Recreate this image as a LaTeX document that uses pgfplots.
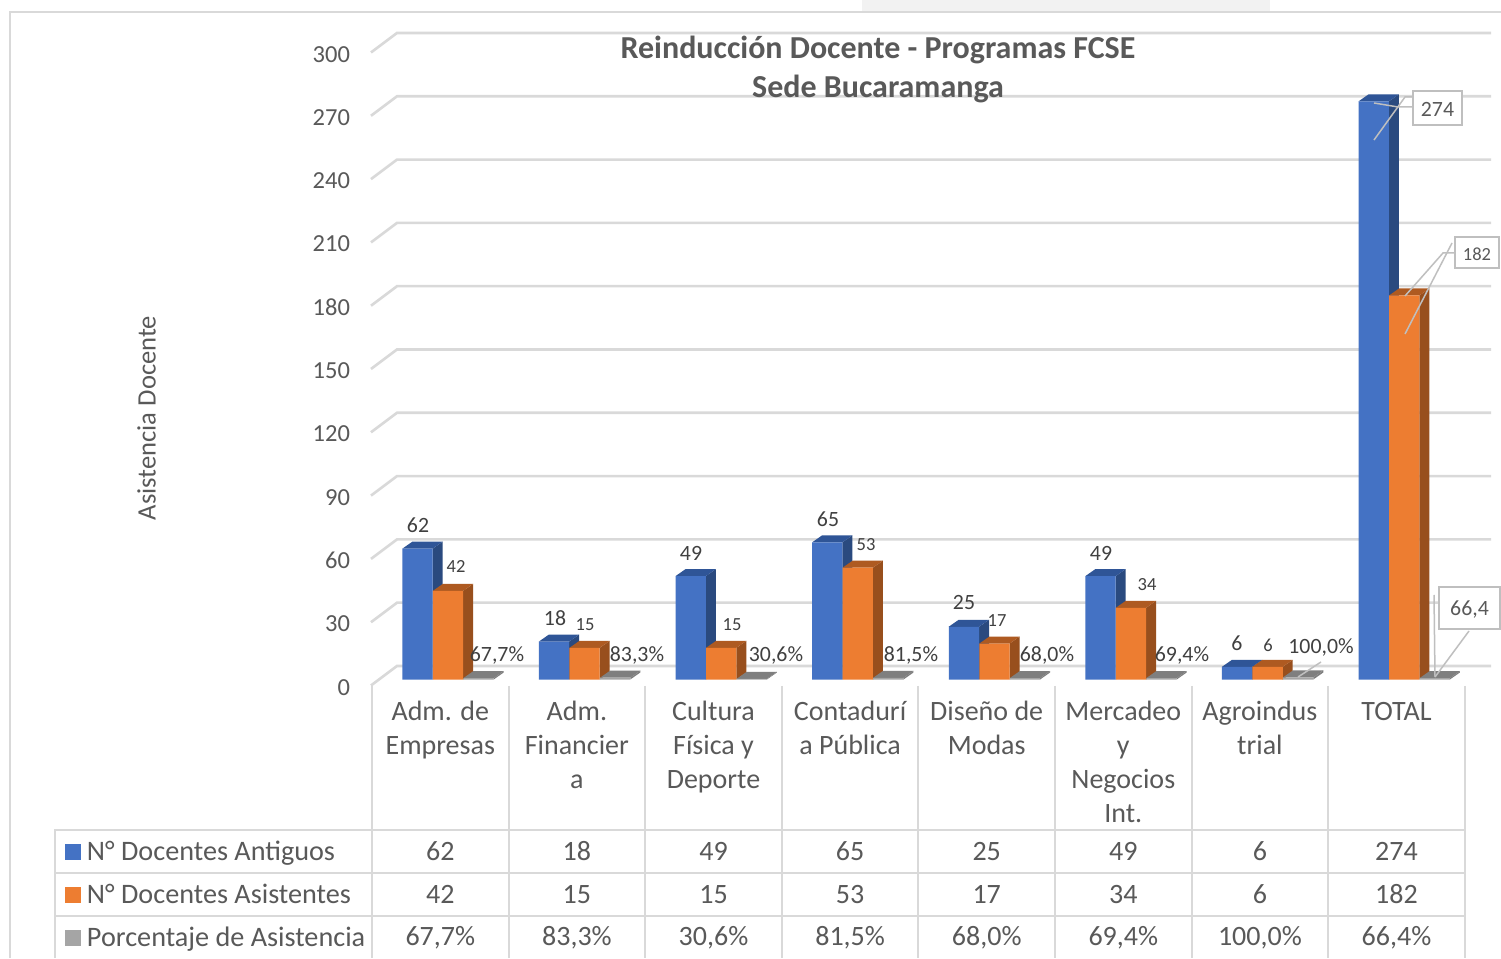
\documentclass[border=0pt]{standalone}
\usepackage{pgfplots}
\usepackage{pgfplotstable}
\usepackage{fontspec}
\setmainfont{Carlito}
\pgfplotsset{compat=1.18}
\definecolor{gridc}{HTML}{D9D9D9}
\definecolor{txt}{HTML}{595959}
\definecolor{lab}{HTML}{404040}
\definecolor{boxc}{HTML}{BFBFBF}
\definecolor{blueF}{HTML}{4472C4}
\definecolor{blueS}{HTML}{2A4A7F}
\definecolor{blueT}{HTML}{2F5597}
\definecolor{orF}{HTML}{ED7D31}
\definecolor{orS}{HTML}{984F1D}
\definecolor{orT}{HTML}{AE5A21}
\definecolor{grF}{HTML}{A5A5A5}
\definecolor{grT}{HTML}{7F7F7F}
\pgfplotstableread{
x antiguos asistentes porcentaje
0.5 62 42 0.677
1.5 18 15 0.833
2.5 49 15 0.306
3.5 65 53 0.815
4.5 25 17 0.680
5.5 49 34 0.694
6.5 6 6 1.000
7.5 274 182 0.664
}\datatable
\newcommand\sidetop[5]{%
  \pgfmathsetmacro\xl{#1+#2-0.1109}%
  \pgfmathsetmacro\xr{#1+#2+0.1109}%
  \pgfmathsetmacro\xla{\xl+0.0732}%
  \pgfmathsetmacro\xra{\xr+0.0732}%
  \pgfmathsetmacro\vt{#3+3.318}%
  \addplot[fill=#4,draw=none,forget plot] coordinates {(\xr,0) (\xra,3.318) (\xra,\vt) (\xr,#3)} -- cycle;
  \addplot[fill=#5,draw=none,forget plot] coordinates {(\xl,#3) (\xla,\vt) (\xra,\vt) (\xr,#3)} -- cycle;
}
\newcommand\bl[3]{\node[font=\fontsize{21.8}{24}\selectfont,text=lab] at (#1,#2) {#3};}
\newcommand\ol[3]{\node[font=\fontsize{18.5}{21}\selectfont,text=lab] at (#1,#2) {#3};}
\begin{document}
\begin{tikzpicture}
\useasboundingbox (-372pt,-278.5pt) rectangle (1129pt,679.5pt);
\begin{scope}[x=1pt,y=-1pt,shift={(-372pt,679.5pt)}]
  \fill[white] (0,0) rectangle (1501,958);
  \fill[black!5] (862,0) rectangle (1270,11);
  \draw[gridc,line width=1.5pt] (10,958) -- (10,12) -- (1501,12);
  \foreach \v in {0,1,...,10} {
    \pgfmathsetmacro\yf{685.5-63.3*\v}
    \pgfmathsetmacro\yb{666-63.3*\v}
    \draw[gridc,line width=2.6pt] (371,\yf) -- (397,\yb) -- (1491,\yb);
  }
\end{scope}
\begin{axis}[
  x=136.6pt,y=2.11pt,
  xmin=0,xmax=8,ymin=0,ymax=300,
  clip=false,
  axis line style={draw=none},
  tick style={draw=none},
  ytick={0,30,...,300},
  xtick={0.5,1.5,...,7.5},
  xticklabels={{\strut Adm. de\\Empresas},{\strut Adm.\\Financier\\a},{\strut Cultura\\Física y\\Deporte},{\strut Contadurí\\a Pública},{\strut Diseño de\\Modas},{\strut Mercadeo\\y\\Negocios\\Int.},{\strut Agroindus\\trial},{\strut TOTAL}},
  xticklabel style={align=center,anchor=north,yshift=-14pt,text=txt,font=\fontsize{28}{34}\selectfont},
  yticklabel style={anchor=east,xshift=-18.5pt,yshift=-7.7pt,text=txt,font=\fontsize{24.5}{26}\selectfont,/pgf/number format/assume math mode=true},
  legend image code/.code={\fill[#1] (0pt,-8pt) rectangle (16pt,8pt);},
  legend cell align=left,
  legend style={at={(-307pt,-150.5pt)},anchor=north west,draw=none,fill=none,inner sep=0pt,outer sep=0pt,row sep=0pt,
    font=\fontsize{28.2}{34}\selectfont,text=txt,
    nodes={inner sep=0pt,minimum height=43pt,anchor=west},
    /tikz/every even column/.style={column sep=0pt},
    /tikz/every odd column/.style={column sep=6pt}},
]
\sidetop{0.5}{-0.167}{62}{blueS}{blueT}
\sidetop{1.5}{-0.167}{18}{blueS}{blueT}
\sidetop{2.5}{-0.167}{49}{blueS}{blueT}
\sidetop{3.5}{-0.167}{65}{blueS}{blueT}
\sidetop{4.5}{-0.167}{25}{blueS}{blueT}
\sidetop{5.5}{-0.167}{49}{blueS}{blueT}
\sidetop{6.5}{-0.167}{6}{blueS}{blueT}
\sidetop{7.5}{-0.167}{274}{blueS}{blueT}
\addplot[ybar,bar width=30.3pt,bar shift=-22.8pt,fill=blueF,draw=none] table[x=x,y=antiguos] {\datatable};
\addlegendentry{N° Docentes Antiguos}
\sidetop{0.5}{0.0563}{42}{orS}{orT}
\sidetop{1.5}{0.0563}{15}{orS}{orT}
\sidetop{2.5}{0.0563}{15}{orS}{orT}
\sidetop{3.5}{0.0563}{53}{orS}{orT}
\sidetop{4.5}{0.0563}{17}{orS}{orT}
\sidetop{5.5}{0.0563}{34}{orS}{orT}
\sidetop{6.5}{0.0563}{6}{orS}{orT}
\sidetop{7.5}{0.0563}{182}{orS}{orT}
\addplot[ybar,bar width=30.3pt,bar shift=7.7pt,fill=orF,draw=none] table[x=x,y=asistentes] {\datatable};
\addlegendentry{N° Docentes Asistentes}
\sidetop{0.5}{0.28}{0.677}{grT}{grT}
\sidetop{1.5}{0.28}{0.833}{grT}{grT}
\sidetop{2.5}{0.28}{0.306}{grT}{grT}
\sidetop{3.5}{0.28}{0.815}{grT}{grT}
\sidetop{4.5}{0.28}{0.680}{grT}{grT}
\sidetop{5.5}{0.28}{0.694}{grT}{grT}
\sidetop{6.5}{0.28}{1.000}{grT}{grT}
\sidetop{7.5}{0.28}{0.664}{grT}{grT}
\addplot[ybar,bar width=30.3pt,bar shift=38.2pt,fill=grF,draw=none] table[x=x,y=porcentaje] {\datatable};
\addlegendentry{Porcentaje de Asistencia}
\end{axis}
\begin{scope}[x=1pt,y=-1pt,shift={(-372pt,679.5pt)}]
  % table
  \draw[gridc,line width=2pt] (55,958) -- (55,830) -- (1465,830);
  \draw[gridc,line width=2pt] (55,873) -- (1465,873);
  \draw[gridc,line width=2pt] (55,916) -- (1465,916);
  \foreach \i in {0,...,8} {
    \pgfmathsetmacro\xx{372+136.6*\i}
    \draw[gridc,line width=2pt] (\xx,686) -- (\xx,958);
  }
  \foreach \i/\a/\b/\c in {0/62/42/{67,7\%},1/18/15/{83,3\%},2/49/15/{30,6\%},3/65/53/{81,5\%},4/25/17/{68,0\%},5/49/34/{69,4\%},6/6/6/{100,0\%},7/274/182/{66,4\%}} {
    \pgfmathsetmacro\xx{440.3+136.6*\i}
    \node[text=txt,font=\fontsize{28}{30}\selectfont] at (\xx,851.5) {\a};
    \node[text=txt,font=\fontsize{28}{30}\selectfont] at (\xx,894.5) {\b};
    \node[text=txt,font=\fontsize{28}{30}\selectfont] at (\xx,937.5) {\c};
  }
  % title and axis title
  \node[text=txt,font=\fontsize{32}{34}\selectfont\bfseries] at (878,50) {Reinducción Docente - Programas FCSE};
  \node[text=txt,font=\fontsize{32}{34}\selectfont\bfseries] at (878,89) {Sede Bucaramanga};
  \node[text=txt,rotate=90,font=\fontsize{26.6}{28}\selectfont] at (146.5,418) {Asistencia Docente};
  % data labels
  \bl{418}{525}{62}\bl{555}{618}{18}\bl{691}{553}{49}\bl{828}{519}{65}\bl{964}{603}{25}\bl{1101}{553}{49}\bl{1237}{643}{6}
  \ol{456}{566}{42}\ol{585}{625}{15}\ol{732}{625}{15}\ol{866}{545}{53}\ol{997}{621}{17}\ol{1147}{585}{34}\ol{1268}{645}{6}
  \bl{497}{655}{67,7\%}\bl{637}{655}{83,3\%}\bl{776}{655}{30,6\%}\bl{911}{655}{81,5\%}\bl{1047}{655}{68,0\%}\bl{1182}{655}{69,4\%}\bl{1321}{647}{100,0\%}
  % leaders
  \draw[boxc,line width=1.5pt] (1374,103) -- (1398,107) -- (1413,107);
  \draw[boxc,line width=1.5pt] (1374,140) -- (1405,97) -- (1413,97);
  \draw[boxc,line width=1.5pt] (1405,296) -- (1443,253) -- (1455,253);
  \draw[boxc,line width=1.5pt] (1405,334) -- (1452,243);
  \draw[boxc,line width=1.5pt] (1435,677) -- (1469,631);
  \draw[boxc,line width=1.5pt] (1434,595) -- (1435,677);
  \draw[boxc,line width=1.5pt] (1298,677) -- (1321,662);
  % boxes
  \draw[boxc,fill=white,line width=1.5pt] (1413,91) rectangle (1462,125);
  \node[text=txt,font=\fontsize{21.8}{24}\selectfont] at (1437.5,109) {274};
  \draw[boxc,fill=white,line width=1.5pt] (1455,237) rectangle (1499,268);
  \node[text=txt,font=\fontsize{18.5}{21}\selectfont] at (1477,254) {182};
  \draw[boxc,fill=white,line width=1.5pt] (1439,587) rectangle (1500,629);
  \node[text=txt,font=\fontsize{21.8}{24}\selectfont] at (1469.5,610) {66,4};
\end{scope}
\end{tikzpicture}
\end{document}
